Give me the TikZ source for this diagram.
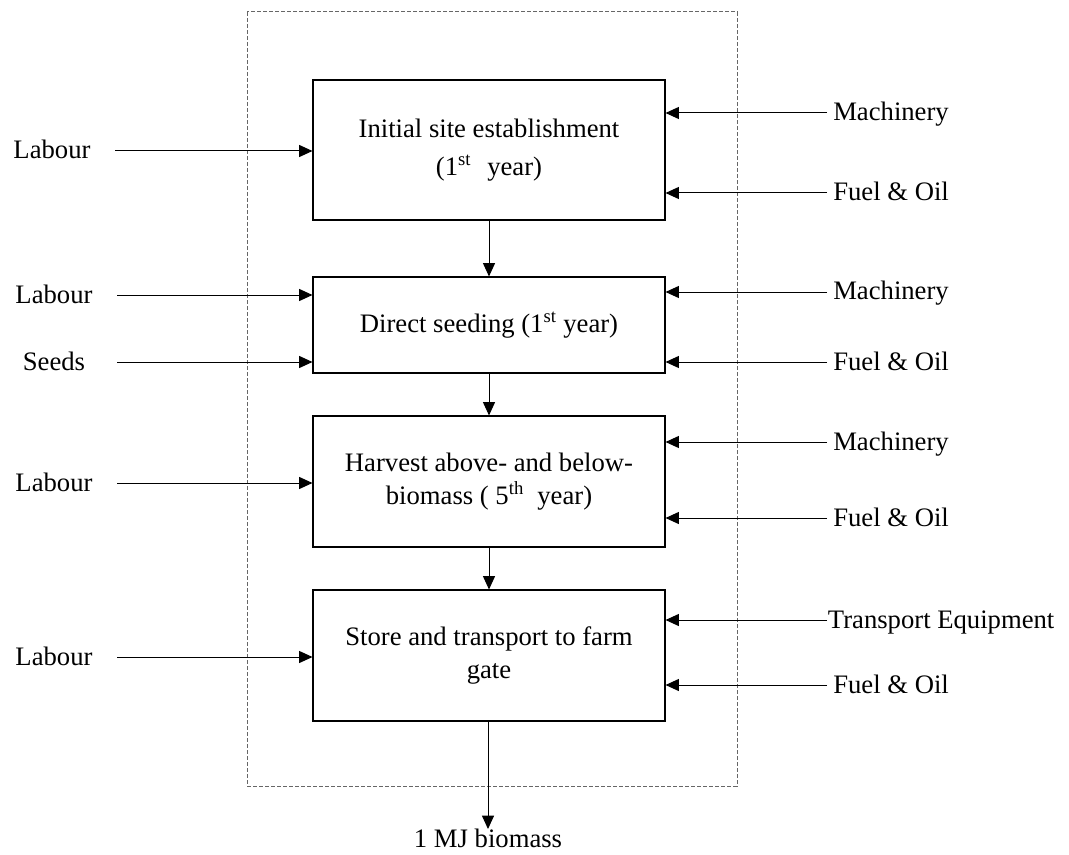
\documentclass[tikz,border=0pt]{standalone}
\usepackage{fontspec}
\setmainfont{Liberation Serif}
\usetikzlibrary{arrows.meta}
\begin{document}
\begin{tikzpicture}[x=0.75pt,y=-0.75pt,
  every node/.style={font=\fontsize{20}{25}\selectfont},
  stage/.style={draw, line width=0.8pt, minimum width=264pt, inner sep=0pt, align=center},
  inl/.style={minimum width=94.5pt, inner sep=0pt, text height=16pt, text depth=4pt},
  inr/.style={anchor=west, inner xsep=4.5pt, inner ysep=0pt, text height=16pt, text depth=4pt},
  flow/.style={-{Triangle[length=10pt,width=9pt]}, line width=0.75pt},
  boundary/.style={draw=black!60, line width=0.75pt, dash pattern=on 3pt off 1.5pt}]
\useasboundingbox (0,0) rectangle (1069,855);

% system boundary
\draw[boundary] (247,12) rectangle (737,786);

% process stages
\node[stage, minimum height=105pt] (s1) at (489,150)
  {Initial site establishment\\[3pt](1\textsuperscript{st}\hspace{12pt}year)};
\node[stage, minimum height=72pt] (s2) at (489,325)
  {Direct seeding (1\textsuperscript{st} year)};
\node[stage, minimum height=98.25pt] (s3) at (489,481.5)
  {Harvest above- and below-\\biomass ( 5\textsuperscript{th}\hspace{10pt}year)};
\node[stage, minimum height=98.25pt] (s4) at (489,655.5)
  {Store and transport to farm\\gate};

% output
\node[anchor=north, inner sep=0pt] (out) at (488,829) {1 MJ biomass};

% inputs on the left
\node[inl] (lab1) at (52,151) {Labour};
\node[inl] (lab2) at (54,295) {Labour};
\node[inl] (seed) at (54,362) {Seeds};
\node[inl] (lab3) at (54,483) {Labour};
\node[inl] (lab4) at (54,657) {Labour};

% inputs on the right
\node[inr] (mac1) at (827,113) {Machinery};
\node[inr] (fue1) at (827,193) {Fuel \& Oil};
\node[inr] (mac2) at (827,292) {Machinery};
\node[inr] (fue2) at (827,362) {Fuel \& Oil};
\node[inr] (mac3) at (827,442) {Machinery};
\node[inr] (fue3) at (827,518) {Fuel \& Oil};
\node[inr, inner xsep=0.5pt] (tra4) at (827,620) {Transport Equipment};
\node[inr] (fue4) at (827,685) {Fuel \& Oil};

% main flow
\draw[flow] (s1.south) -- (s2.north);
\draw[flow] (s2.south) -- (s3.north);
\draw[flow] (s3.south) -- (s4.north);
\draw[flow] (s4.south -| out.north) -- (out.north);

% left connectors
\foreach \n/\s in {lab1/s1, lab2/s2, seed/s2, lab3/s3, lab4/s4}
  \draw[flow] (\n.east) -- (\s.west |- \n.east);

% right connectors
\foreach \n/\s in {mac1/s1, fue1/s1, mac2/s2, fue2/s2, mac3/s3, fue3/s3, tra4/s4, fue4/s4}
  \draw[flow] (\n.west) -- (\s.east |- \n.west);
\end{tikzpicture}
\end{document}
